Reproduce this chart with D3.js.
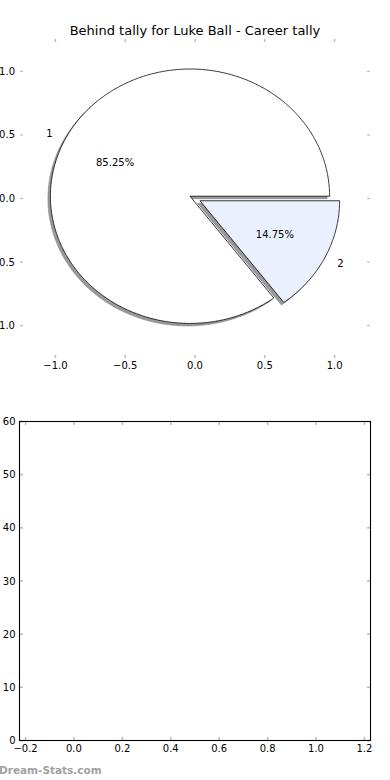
<!DOCTYPE html>
<html>
<head>
<meta charset="utf-8">
<script src="https://cdn.jsdelivr.net/npm/d3@7"></script>
<style>
  html, body { margin: 0; padding: 0; background: #fff; }
  svg { display: block; font-family: "DejaVu Sans", sans-serif; }
</style>
</head>
<body>
<svg id="chart" width="390" height="780"></svg>
<script>
// ---- data ----
const sliceLabels = ["1", "2"];
const sliceValues = [85.25, 14.75];
const pctLabels = ["85.25%", "14.75%"];
const pieTicks = [-1.0, -0.5, 0.0, 0.5, 1.0];
const bottomXTicks = [-0.2, 0.0, 0.2, 0.4, 0.6, 0.8, 1.0, 1.2];
const bottomYTicks = [0, 10, 20, 30, 40, 50, 60];

// ---- style constants ----
const sliceColors = ["#ffffff", "#eaf0fd"];
const EXPLODE = 0.04;
const tickColor = "#bbbbbb";
const fmt = v => {
  const s = d3.format(".1f")(Math.abs(v));
  return (v < 0 ? "\u2212" : "") + s;
};

const svg = d3.select("#chart");

// ---- title ----
svg.append("text").attr("x", 195).attr("y", 30)
  .attr("text-anchor", "middle").attr("dominant-baseline", "central")
  .attr("font-size", 13).attr("fill", "#000")
  .text("Behind tally for Luke Ball - Career tally");

// ---- top (pie) axes ----
const px = d3.scaleLinear().domain([-1.25, 1.25]).range([20.5, 369.5]);
const py = d3.scaleLinear().domain([-1.25, 1.25]).range([357.5, 39.5]);
const gTop = svg.append("g");

// ticks (frame off, ticks only)
pieTicks.forEach(t => {
  gTop.append("line").attr("x1", px(t)).attr("x2", px(t)).attr("y1", 39).attr("y2", 42)
    .attr("stroke", tickColor).attr("stroke-width", 1.5);
  gTop.append("line").attr("x1", px(t)).attr("x2", px(t)).attr("y1", 355).attr("y2", 358)
    .attr("stroke", tickColor).attr("stroke-width", 1.5);
  gTop.append("line").attr("x1", 20).attr("x2", 23).attr("y1", py(t)).attr("y2", py(t))
    .attr("stroke", tickColor).attr("stroke-width", 1.2);
  gTop.append("line").attr("x1", 367).attr("x2", 370).attr("y1", py(t)).attr("y2", py(t))
    .attr("stroke", tickColor).attr("stroke-width", 1.2);
  gTop.append("text").attr("x", 15).attr("y", py(t))
    .attr("text-anchor", "end").attr("dominant-baseline", "central")
    .attr("font-size", 10).text(fmt(t));
  gTop.append("text").attr("x", px(t)).attr("y", 365)
    .attr("text-anchor", "middle").attr("dominant-baseline", "central")
    .attr("font-size", 10).text(fmt(t));
});

// pie geometry in data coordinates (matplotlib style: start 0, counterclockwise)
const total = d3.sum(sliceValues);
let acc = 0;
const slices = sliceValues.map((v, i) => {
  const a0 = 2 * Math.PI * acc / total;
  acc += v;
  const a1 = 2 * Math.PI * acc / total;
  const mid = (a0 + a1) / 2;
  const cx = EXPLODE * Math.cos(mid), cy = EXPLODE * Math.sin(mid);
  const pts = [[cx, cy]];
  const n = Math.max(8, Math.ceil((a1 - a0) / 0.01));
  for (let k = 0; k <= n; k++) {
    const a = a0 + (a1 - a0) * k / n;
    pts.push([cx + Math.cos(a), cy + Math.sin(a)]);
  }
  return { i, a0, a1, mid, cx, cy, pts };
});

const line = d3.line().x(d => px(d[0])).y(d => py(d[1]));

// shadows
slices.forEach(s => {
  gTop.append("path").attr("d", line(s.pts) + "Z")
    .attr("transform", "translate(-2.5,2.5)")
    .attr("fill", "#9a9a9a")
    .attr("stroke", "#6f6f6f").attr("stroke-opacity", 0.6).attr("stroke-width", 0.8);
});
// slices
slices.forEach(s => {
  gTop.append("path").attr("d", line(s.pts) + "Z")
    .attr("fill", sliceColors[s.i])
    .attr("stroke", "#000").attr("stroke-width", 0.8).attr("stroke-linejoin", "miter");
});
// labels
slices.forEach(s => {
  const lx = s.cx + 1.1 * Math.cos(s.mid), ly = s.cy + 1.1 * Math.sin(s.mid);
  gTop.append("text").attr("x", px(lx)).attr("y", py(ly))
    .attr("text-anchor", lx < 0 ? "end" : "start").attr("dominant-baseline", "central")
    .attr("font-size", 10).text(sliceLabels[s.i]);
  const tx = s.cx + 0.6 * Math.cos(s.mid), ty = s.cy + 0.6 * Math.sin(s.mid);
  gTop.append("text").attr("x", px(tx)).attr("y", py(ty))
    .attr("text-anchor", "middle").attr("dominant-baseline", "central")
    .attr("font-size", 10).text(pctLabels[s.i]);
});

// ---- bottom axes ----
const bx = d3.scaleLinear().domain([-0.225, 1.225]).range([19.5, 370.5]);
const by = d3.scaleLinear().domain([0, 60]).range([740.5, 421.5]);
const gBot = svg.append("g");

bottomXTicks.forEach(t => {
  gBot.append("line").attr("x1", bx(t)).attr("x2", bx(t)).attr("y1", 740).attr("y2", 737)
    .attr("stroke", tickColor).attr("stroke-width", 1.5);
  gBot.append("line").attr("x1", bx(t)).attr("x2", bx(t)).attr("y1", 422).attr("y2", 425)
    .attr("stroke", tickColor).attr("stroke-width", 1.5);
  gBot.append("text").attr("x", bx(t)).attr("y", 748)
    .attr("text-anchor", "middle").attr("dominant-baseline", "central")
    .attr("font-size", 10).text(fmt(t));
});
bottomYTicks.forEach(t => {
  gBot.append("line").attr("x1", 20).attr("x2", 23).attr("y1", by(t)).attr("y2", by(t))
    .attr("stroke", tickColor).attr("stroke-width", 1.5);
  gBot.append("line").attr("x1", 370).attr("x2", 367).attr("y1", by(t)).attr("y2", by(t))
    .attr("stroke", tickColor).attr("stroke-width", 1.5);
  gBot.append("text").attr("x", 15.5).attr("y", by(t))
    .attr("text-anchor", "end").attr("dominant-baseline", "central")
    .attr("font-size", 10).text(d3.format("d")(t));
});
gBot.append("rect")
  .attr("x", bx.range()[0]).attr("y", by.range()[1])
  .attr("width", bx.range()[1] - bx.range()[0]).attr("height", by.range()[0] - by.range()[1])
  .attr("fill", "none").attr("stroke", "#000").attr("stroke-width", 1.1);

// ---- watermark ----
svg.append("text").attr("x", -1).attr("y", 770)
  .attr("dominant-baseline", "central")
  .attr("font-size", 10.5).attr("font-weight", "bold").attr("fill", "#a0a0a0")
  .text("Dream-Stats.com");
</script>
</body>
</html>
